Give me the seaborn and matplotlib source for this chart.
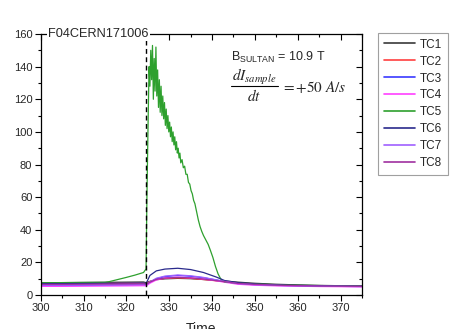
import numpy as np
import pandas as pd
import matplotlib
matplotlib.use("Agg")
import matplotlib.pyplot as plt
from matplotlib.ticker import MultipleLocator
from matplotlib.lines import Line2D
import seaborn as sns

# ---- data -------------------------------------------------------------
t_smooth = [300, 305, 310, 315, 320, 324, 324.6, 325.5, 327, 329, 332, 335,
            338, 341, 343, 346, 350, 355, 360, 365, 370, 375]

tc1 = [7.5, 7.6, 7.7, 7.8, 7.9, 8.0, 7.6, 8.4, 9.4, 9.9, 10.2, 10.0,
       9.5, 8.9, 8.6, 7.9, 7.2, 6.6, 6.2, 5.9, 5.7, 5.6]
tc2 = [7.0, 7.0, 7.1, 7.1, 7.2, 7.2, 6.9, 8.2, 9.6, 10.2, 10.5, 10.2,
       9.5, 8.7, 8.1, 7.2, 6.6, 6.1, 5.8, 5.6, 5.4, 5.3]
tc3 = [5.8, 5.8, 5.9, 6.0, 6.1, 6.2, 6.0, 7.8, 10.0, 11.3, 12.0, 11.5,
       10.6, 9.2, 8.2, 7.0, 6.3, 5.9, 5.6, 5.4, 5.3, 5.2]
tc4 = [5.3, 5.3, 5.4, 5.5, 5.6, 5.7, 5.6, 7.2, 9.2, 10.5, 11.0, 10.6,
       9.8, 8.7, 7.8, 6.6, 6.0, 5.6, 5.4, 5.2, 5.1, 5.0]
tc6 = [7.0, 7.0, 7.1, 7.2, 7.3, 7.4, 7.0, 12.0, 14.8, 15.9, 16.4, 15.6,
       13.8, 11.0, 8.8, 7.6, 6.8, 6.2, 5.9, 5.7, 5.5, 5.4]
tc7 = [6.0, 6.0, 6.1, 6.2, 6.3, 6.4, 6.2, 8.0, 10.3, 11.6, 12.3, 11.8,
       10.8, 9.3, 8.3, 7.0, 6.3, 5.9, 5.6, 5.4, 5.3, 5.2]
tc8 = [6.5, 6.5, 6.6, 6.7, 6.8, 6.9, 6.6, 7.9, 9.6, 10.4, 10.8, 10.5,
       9.8, 8.8, 8.2, 7.1, 6.5, 6.0, 5.7, 5.5, 5.4, 5.3]

t_green = [300, 305, 310, 315, 316, 318, 320, 322, 324, 324.6,
           324.8, 325.1, 325.3, 325.5, 325.7, 325.9, 326.1, 326.3, 326.5, 326.7,
           326.9, 327.1, 327.3, 327.5, 327.7, 327.9, 328.1, 328.3, 328.5, 328.7,
           328.9, 329.1, 329.3, 329.5, 329.7, 329.9, 330.1, 330.3, 330.5, 330.7,
           330.9, 331.1, 331.3, 331.5, 331.7, 331.9, 332.1, 332.3, 332.5, 332.7,
           333.0, 333.3, 333.6, 333.9, 334.2, 334.5, 334.8, 335.1, 335.4, 335.7,
           336.0, 336.4, 336.8, 337.2, 337.6, 338.0, 338.5, 339.1, 339.6, 340.2,
           340.8, 341.4, 342.0, 342.5, 343, 346, 350, 355, 360, 365, 370, 375]
tc5 = [7.5, 7.6, 7.7, 7.8, 8.2, 9.5, 10.8, 12.2, 13.8, 16.0,
       60, 110, 140, 128, 150, 132, 153, 120, 145, 125,
       152, 122, 138, 115, 132, 112, 128, 110, 122, 108,
       118, 104, 114, 102, 110, 100, 106, 97, 103, 94,
       100, 92, 97, 89, 94, 87, 90, 84, 87, 81,
       83, 78, 79, 74, 74, 69, 68, 64, 62, 58,
       56, 51, 46, 42, 39, 36.5, 34, 31, 27.5, 23,
       17.5, 13, 10, 8.5, 8.0, 7.3, 6.8, 6.3, 6.0, 5.8, 5.6, 5.5]

names = ["TC1", "TC2", "TC3", "TC4", "TC5", "TC6", "TC7", "TC8"]
colors = ["#3a3a3a", "#ff4040", "#3a3aff", "#ff40ff", "#2ea02e",
          "#2a2a8c", "#a060ff", "#a030a0"]
quench_time = 324.6

frames = []
for n, v in zip(["TC1", "TC2", "TC3", "TC4", "TC6", "TC7", "TC8"],
                [tc1, tc2, tc3, tc4, tc6, tc7, tc8]):
    frames.append(pd.DataFrame({"Time": t_smooth, "T": v, "TC": n}))
frames.append(pd.DataFrame({"Time": t_green, "T": tc5, "TC": "TC5"}))
df = pd.concat(frames, ignore_index=True)

# ---- style ------------------------------------------------------------
sns.set_theme(style="ticks")
plt.rcParams["font.family"] = ["Liberation Sans", "DejaVu Sans"]

fig = plt.figure(figsize=(4.5, 3.29), dpi=100)
ax = fig.add_axes([0.0904, 0.1033, 0.714, 0.7933])

sns.lineplot(data=df, x="Time", y="T", hue="TC", hue_order=names,
             palette=dict(zip(names, colors)), linewidth=0.9, ax=ax,
             estimator=None, sort=True, legend=True)

ax.axvline(quench_time, color="black", lw=1.0, ls=(0, (3.5, 2.5)))

ax.set_xlim(300, 375)
ax.set_ylim(0, 160)
ax.xaxis.set_major_locator(MultipleLocator(10))
ax.xaxis.set_minor_locator(MultipleLocator(5))
ax.yaxis.set_major_locator(MultipleLocator(20))
ax.yaxis.set_minor_locator(MultipleLocator(10))

for s in ax.spines.values():
    s.set_visible(True)
    s.set_color("black")
    s.set_linewidth(0.9)

ax.tick_params(axis="both", which="major", labelsize=8, length=4, width=0.8,
               direction="out", color="black", pad=2)
ax.tick_params(axis="both", which="minor", length=2.5, width=0.8,
               direction="out", color="black")
ax.tick_params(top=True, right=True, which="both")
# top/right ticks point inward
for tk in ax.xaxis.get_major_ticks() + ax.xaxis.get_minor_ticks():
    tk.tick2line.set_marker(3)
for tk in ax.yaxis.get_major_ticks() + ax.yaxis.get_minor_ticks():
    tk.tick2line.set_marker(0)

ax.set_xlabel("Time", fontsize=10, labelpad=6)
ax.set_ylabel("Temperature (K)", fontsize=10)
ax.yaxis.set_label_coords(-0.135, 0.5)

ax.text(0.023, 1.0, "F04CERN171006", transform=ax.transAxes, fontsize=9.2,
        ha="left", va="center",
        bbox=dict(facecolor="white", edgecolor="none", pad=0.8))

ax.text(0.593, 0.91, r"B$_{\mathregular{SULTAN}}$ = 10.9 T",
        transform=ax.transAxes, fontsize=9, ha="left", va="center")

# dI_sample/dt = +50 A/s, composed as a display fraction
ax.text(0.665, 0.836, r"$dI_{sample}$", transform=ax.transAxes,
        fontsize=11, ha="center", va="center", math_fontfamily="stix")
ax.add_line(Line2D([0.592, 0.739], [0.801, 0.801], transform=ax.transAxes,
                   color="black", lw=0.8, clip_on=False))
ax.text(0.665, 0.762, r"$dt$", transform=ax.transAxes,
        fontsize=11, ha="center", va="center", math_fontfamily="stix")
ax.text(0.748, 0.798, r"$=+50\ A/s$", transform=ax.transAxes,
        fontsize=11, ha="left", va="center", math_fontfamily="stix")

leg = ax.legend(loc="upper left", bbox_to_anchor=(1.05, 1.005),
                borderaxespad=0, frameon=True, fancybox=False,
                fontsize=8.5, handlelength=2.6, labelspacing=0.42,
                handletextpad=0.4, borderpad=0.5, title=None)
leg.get_frame().set_edgecolor("#888888")
leg.get_frame().set_linewidth(0.8)
for line in leg.get_lines():
    line.set_linewidth(1.2)

fig.savefig("out.png", dpi=100)
